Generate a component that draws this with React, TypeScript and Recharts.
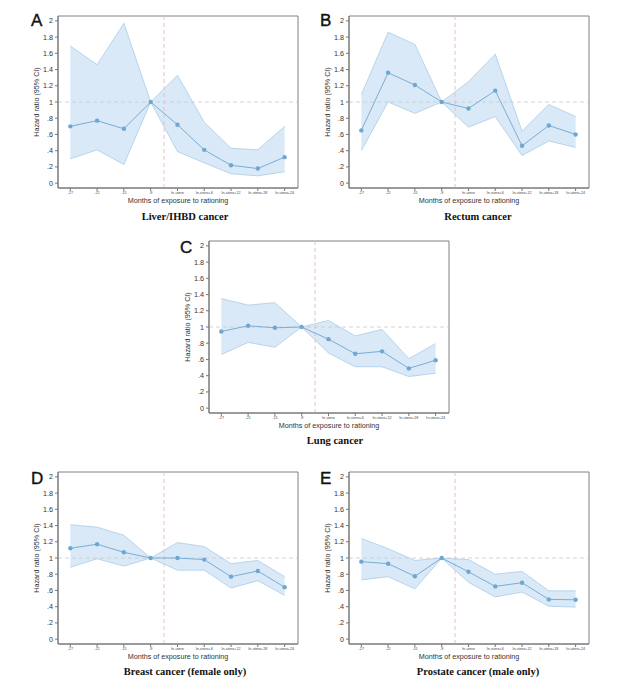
import React from 'react';
import {
  ComposedChart,
  Area,
  Line,
  XAxis,
  YAxis,
  ReferenceLine,
  ReferenceArea,
  Label,
} from 'recharts';

const categories = ['-27', '-21', '-15', '-9', 'In-utero', 'In-utero+6', 'In-utero+12', 'In-utero+18', 'In-utero+24'];
const yTicks = [0, 0.2, 0.4, 0.6, 0.8, 1, 1.2, 1.4, 1.6, 1.8, 2];

const liverHR = [0.70, 0.77, 0.67, 1.00, 0.72, 0.41, 0.22, 0.18, 0.32];
const liverLo = [0.30, 0.41, 0.23, 1.00, 0.39, 0.25, 0.115, 0.09, 0.14];
const liverHi = [1.69, 1.46, 1.97, 1.00, 1.33, 0.75, 0.43, 0.41, 0.70];

const rectumHR = [0.65, 1.36, 1.21, 1.00, 0.92, 1.14, 0.46, 0.71, 0.60];
const rectumLo = [0.40, 1.00, 0.86, 1.00, 0.69, 0.82, 0.34, 0.52, 0.44];
const rectumHi = [1.09, 1.86, 1.71, 1.00, 1.25, 1.59, 0.64, 0.97, 0.82];

const lungHR = [0.945, 1.015, 0.99, 1.00, 0.85, 0.67, 0.70, 0.49, 0.59];
const lungLo = [0.66, 0.81, 0.75, 1.00, 0.68, 0.51, 0.51, 0.39, 0.43];
const lungHi = [1.35, 1.27, 1.30, 1.00, 1.08, 0.89, 0.97, 0.61, 0.795];

const breastHR = [1.12, 1.17, 1.07, 1.00, 1.00, 0.98, 0.77, 0.84, 0.64];
const breastLo = [0.885, 0.99, 0.90, 1.00, 0.85, 0.85, 0.63, 0.72, 0.54];
const breastHi = [1.41, 1.38, 1.28, 1.00, 1.19, 1.14, 0.93, 0.97, 0.77];

const prostateHR = [0.955, 0.93, 0.775, 1.00, 0.83, 0.65, 0.695, 0.49, 0.485];
const prostateLo = [0.73, 0.77, 0.62, 1.00, 0.70, 0.52, 0.58, 0.405, 0.395];
const prostateHi = [1.24, 1.115, 0.97, 1.00, 0.98, 0.80, 0.835, 0.595, 0.595];

const X_DOMAIN: [number, number] = [-0.46, 8.5];
const Y_DOMAIN: [number, number] = [-0.06, 2.06];
const EXPOSURE_START = 3.5;

const SANS = '"Liberation Sans", Arial, Helvetica, sans-serif';
const SERIF = '"Liberation Serif", "Times New Roman", serif';

const buildRows = (hr: number[], lo: number[], hi: number[]) =>
  categories.map((c, i) => ({ x: i, label: c, hr: hr[i], band: [lo[i], hi[i]] }));

const fmtY = (v: number) => {
  const s = (Math.round(v * 10) / 10).toString();
  return s.startsWith('0.') ? s.slice(1) : s;
};

type PanelProps = {
  letter: string;
  title: string;
  hr: number[];
  lo: number[];
  hi: number[];
  frameLeft: number;
  frameTop: number;
  letterX: number;
  letterY: number;
  titleX: number;
  titleY: number;
};

const Panel = ({ letter, title, hr, lo, hi, frameLeft, frameTop, letterX, letterY, titleX, titleY }: PanelProps) => {
  const rows = buildRows(hr, lo, hi);
  return (
    <>
      <div style={{ position: 'absolute', left: frameLeft - 40, top: frameTop - 10 }}>
        <ComposedChart
          width={290}
          height={202}
          data={rows}
          margin={{ top: 10, right: 10, bottom: 5, left: 0 }}
        >
          <XAxis
            dataKey="x"
            type="number"
            domain={X_DOMAIN}
            ticks={[0, 1, 2, 3, 4, 5, 6, 7, 8]}
            tickFormatter={(v: number) => categories[v]}
            allowDataOverflow
            height={15}
            tickSize={3}
            tickMargin={0}
            interval={0}
            stroke="#777"
            tick={{ fontSize: 3.7, fill: '#444', fontFamily: SANS }}
          >
            <Label
              value="Months of exposure to rationing"
              position="insideBottom"
              offset={0}
              angle={0.01}
              fill="#333"
              style={{ fontSize: 7.2, fill: '#333', fontFamily: SANS }}
            />
          </XAxis>
          <YAxis
            type="number"
            domain={Y_DOMAIN}
            ticks={yTicks}
            tickFormatter={fmtY}
            allowDataOverflow
            width={40}
            tickSize={3}
            interval={0}
            stroke="#777"
            tick={{ fontSize: 7.2, fill: '#333', fontFamily: SANS }}
          >
            <Label
              value="Hazard ratio (95% CI)"
              angle={-90}
              position="insideLeft"
              offset={18}
              fill="#333"
              style={{ fontSize: 7.2, fill: '#333', fontFamily: SANS, textAnchor: 'middle' }}
            />
          </YAxis>
          <Area
            type="linear"
            dataKey="band"
            fill="#d9e9f8"
            fillOpacity={1}
            stroke="#a9cbe6"
            strokeWidth={0.8}
            isAnimationActive={false}
            activeDot={false}
          />
          <ReferenceLine y={1} stroke="#c9c9c9" strokeWidth={0.8} strokeDasharray="4 3" />
          <ReferenceLine x={EXPOSURE_START} stroke="#e6c2c4" strokeWidth={1} strokeDasharray="4 3" />
          <Line
            type="linear"
            dataKey="hr"
            stroke="#7aaed4"
            strokeWidth={1}
            dot={{ r: 2.2, fill: '#6ea8d2', stroke: '#6ea8d2', strokeWidth: 0 }}
            activeDot={false}
            isAnimationActive={false}
          />
          <ReferenceArea
            x1={X_DOMAIN[0]}
            x2={X_DOMAIN[1]}
            y1={Y_DOMAIN[0]}
            y2={Y_DOMAIN[1]}
            fill="none"
            fillOpacity={0}
            stroke="#808080"
            strokeWidth={1}
            ifOverflow="visible"
          />
        </ComposedChart>
      </div>
      <div
        style={{
          position: 'absolute',
          left: letterX,
          top: letterY,
          fontFamily: SANS,
          fontSize: 17,
          lineHeight: 1,
          color: '#111',
          WebkitTextStroke: '0.4px #111',
        }}
      >
        {letter}
      </div>
      <div
        style={{
          position: 'absolute',
          left: titleX,
          top: titleY,
          transform: 'translate(-50%, -50%)',
          fontFamily: SERIF,
          fontWeight: 'bold',
          fontSize: 10.5,
          lineHeight: 1,
          whiteSpace: 'nowrap',
          color: '#111',
        }}
      >
        {title}
      </div>
    </>
  );
};

export default function App() {
  return (
    <div
      style={{
        position: 'absolute',
        left: 0,
        top: 0,
        width: 642,
        height: 689,
        background: '#fff',
        overflow: 'hidden',
      }}
    >
      <Panel letter="A" title="Liver/IHBD cancer" hr={liverHR} lo={liverLo} hi={liverHi}
        frameLeft={58} frameTop={16} letterX={31} letterY={12} titleX={185} titleY={217} />
      <Panel letter="B" title="Rectum cancer" hr={rectumHR} lo={rectumLo} hi={rectumHi}
        frameLeft={349} frameTop={16} letterX={320} letterY={12} titleX={478} titleY={217} />
      <Panel letter="C" title="Lung cancer" hr={lungHR} lo={lungLo} hi={lungHi}
        frameLeft={209} frameTop={241} letterX={180} letterY={239} titleX={335} titleY={441} />
      <Panel letter="D" title="Breast cancer (female only)" hr={breastHR} lo={breastLo} hi={breastHi}
        frameLeft={58} frameTop={472} letterX={31} letterY={470} titleX={185} titleY={672} />
      <Panel letter="E" title="Prostate cancer (male only)" hr={prostateHR} lo={prostateLo} hi={prostateHi}
        frameLeft={349} frameTop={472} letterX={320} letterY={470} titleX={478} titleY={672} />
    </div>
  );
}
